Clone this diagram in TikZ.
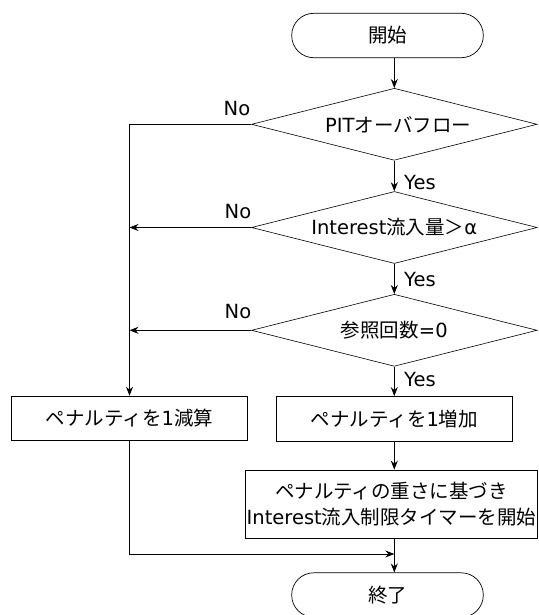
\documentclass[tikz,border=0pt]{standalone}
\usepackage{fontspec}
\setmainfont{DejaVu Sans}
\newfontfamily\jp{Noto Sans CJK JP}
\usetikzlibrary{shapes.geometric,arrows.meta}
\begin{document}
\begin{tikzpicture}[x=1pt,y=-1pt,
  every node/.style={font=\fontsize{19.5}{26.5}\selectfont},
  term/.style={draw,line width=0.7pt,rounded corners=22pt,minimum width=191.6pt,minimum height=44.4pt,inner sep=0pt},
  decide/.style={draw,line width=0.6pt,shape=diamond,aspect=3.97,minimum width=285.6pt,minimum height=72pt,inner sep=0pt},
  proc/.style={draw,line width=0.7pt,rectangle,inner sep=1pt,align=center},
  lab/.style={inner sep=0pt},
  arr/.style={line width=0.7pt,-{Stealth[length=9pt,width=7pt,inset=3pt]}}
]
\useasboundingbox (0,0) rectangle (538,615);

\node[term] (start) at (387.5,35.5) {{\jp 開始}};
\node[decide] (d1) at (394.3,124.3) {\hspace{8pt}PIT{\jp オーバフロー}};
\node[decide] (d2) at (394.3,227.5) {Interest{\jp 流入量＞}α};
\node[decide] (d3) at (394.3,330.3) {{\jp 参照回数}=0};
\node[proc,minimum width=235.6pt,minimum height=44.5pt] (dec) at (129.5,418.3) {{\jp ペナルティを}1{\jp 減算}};
\node[proc,minimum width=235.3pt,minimum height=44.5pt] (inc) at (394.3,418.7) {{\jp ペナルティを}1{\jp 増加}};
\node[proc,minimum width=291.6pt,minimum height=68.6pt] (timer) at (391.5,504.3) {{\jp ペナルティの重さに基づき}\\Interest{\jp 流入制限タイマーを開始}};
\node[term] (end) at (387.5,595) {{\jp 終了}};
\coordinate (m) at (394.3,554);

\draw[arr] (start.south -| d1.north) -- (d1.north);
\draw[arr] (d1.south) -- (d2.north);
\draw[arr] (d2.south) -- (d3.north);
\draw[arr] (d3.south) -- (inc.north);
\draw[arr] (d1.west) -- (d1.west -| dec.north) -- (dec.north);
\draw[arr] (d2.west) -- (d2.west -| dec.north);
\draw[arr] (d3.west) -- (d3.west -| dec.north);
\draw[arr] (inc.south) -- (inc.south |- timer.north);
\draw[arr] (timer.south -| m) -- (end.north -| m);
\draw[arr] (dec.south) |- (m);

\node[lab,anchor=west] (y1) at (404,182.5) {Yes};
\node[lab,anchor=west] (y2) at (404,279.5) {Yes};
\node[lab,anchor=west] (y3) at (404,379.5) {Yes};
\node[lab] (n1) at (237,108.3) {No};
\node[lab] (n2) at (238,211.7) {No};
\node[lab] (n3) at (238,311.7) {No};
\end{tikzpicture}
\end{document}
